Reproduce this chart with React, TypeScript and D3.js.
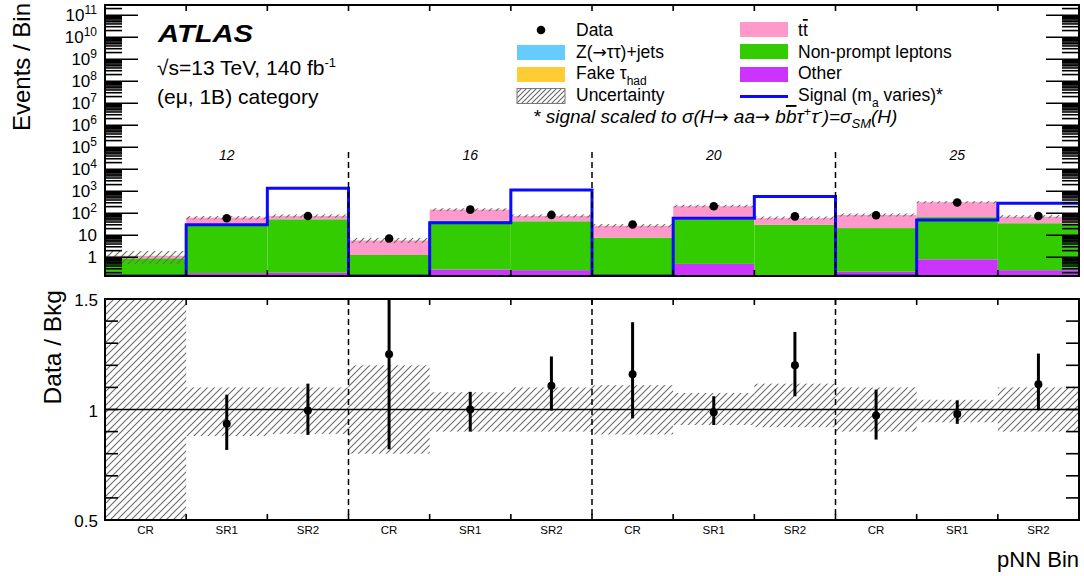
import React from 'react';
import * as d3 from 'd3';

// ---------- data ----------
const binLabels = ['CR', 'SR1', 'SR2', 'CR', 'SR1', 'SR2', 'CR', 'SR1', 'SR2', 'CR', 'SR1', 'SR2'];
const massLabels = ['12', '16', '20', '25'];

const other = [0.05, 0.19, 0.2, 0.12, 0.28, 0.26, 0.1, 0.5, 0.12, 0.22, 0.81, 0.26];
const nonPrompt = [0.85, 28, 53, 1.15, 46, 43, 7.8, 50, 29.5, 21, 66, 35];
const ttbar = [0.25, 35, 22, 4.5, 100, 32, 19, 160, 30, 62, 250, 33];
const fakeTau = [0.02, 0.3, 0.3, 0.1, 0.5, 0.3, 0.2, 0.6, 0.3, 0.4, 1.0, 0.4];
const zTauTau = [0.01, 0.2, 0.2, 0.05, 0.4, 0.2, 0.1, 0.4, 0.2, 0.3, 0.6, 1.5];

const dataCounts = [null, 59, 75, 7.1, 146, 84, 31, 207, 72, 81, 310, 75];
const signal = [0, 30, 1380, 0, 37, 1150, 0, 59, 570, 0, 50, 285];

const uncUp = [0.55, 0.1, 0.1, 0.2, 0.078, 0.1, 0.11, 0.075, 0.117, 0.1, 0.044, 0.1];
const uncDown = [0.55, 0.12, 0.11, 0.2, 0.1, 0.1, 0.113, 0.07, 0.08, 0.1, 0.058, 0.1];

const ratio = [null, 0.935, 0.995, 1.25, 1.0, 1.107, 1.16, 0.988, 1.2, 0.973, 0.98, 1.114];
const ratioHi = [null, 1.067, 1.117, 1.62, 1.08, 1.24, 1.395, 1.06, 1.351, 1.09, 1.041, 1.253];
const ratioLo = [null, 0.817, 0.885, 0.82, 0.9, 0.995, 0.96, 0.93, 1.06, 0.864, 0.935, 0.997];

const yExponents = [0, 1, 2, 3, 4, 5, 6, 7, 8, 9, 10, 11];
const ratioTickLabels = ['0.5', '1', '1.5'];

const stackKeys = ['other', 'nonPrompt', 'ttbar', 'fakeTau', 'zTauTau'];
const stackColors: Record<string, string> = {
  other: '#cc33ff',
  nonPrompt: '#33cc00',
  ttbar: '#ff99cc',
  fakeTau: '#ffcc33',
  zTauTau: '#66ccff',
};

const FONT = "'Liberation Sans', Arial, Helvetica, sans-serif";
const ARROW_FONT = "'DejaVu Sans', 'Liberation Sans', sans-serif";

// ---------- layout ----------
const X0 = 105, X1 = 1079;
const T0 = 5, T1 = 276;
const R0 = 299, R1 = 520;
const YMIN = 0.141, YMAX = 2.9e11;

export default function App() {
  const x = d3.scaleLinear().domain([0, 12]).range([X0, X1]);
  const y = d3.scaleLog().domain([YMIN, YMAX]).range([T1, T0]);
  const yr = d3.scaleLinear().domain([0.5, 1.5]).range([R1, R0]);

  const rows = binLabels.map((_, i) => ({
    other: other[i], nonPrompt: nonPrompt[i], ttbar: ttbar[i], fakeTau: fakeTau[i], zTauTau: zTauTau[i],
  }));
  const series = d3.stack<any>().keys(stackKeys)(rows);
  const totals = rows.map((r) => stackKeys.reduce((s, k) => s + (r as any)[k], 0));
  const yc = (v: number) => y(Math.max(v, YMIN));

  const sigLine = d3.line<[number, number]>()
    .x((d) => d[0]).y((d) => d[1]).curve(d3.curveStepAfter);
  const sigPts: [number, number][] = signal.map((v, i) => [x(i), yc(v)] as [number, number]);
  sigPts.push([x(12), yc(signal[signal.length - 1])]);

  const majors = yExponents.map((e) => Math.pow(10, e));
  const minors: number[] = [];
  for (let e = -1; e <= 11; e++) for (let m = 2; m <= 9; m++) {
    const v = m * Math.pow(10, e);
    if (v > YMIN && v < YMAX) minors.push(v);
  }
  const ratioTicks = d3.range(6, 15).map((k) => k / 10);
  const edges = d3.range(1, 12);
  const groupEdges = [3, 6, 9];

  return (
    <svg width={1084} height={576} style={{ position: 'absolute', left: 0, top: 0, background: '#fff' }} fontFamily={FONT}>
      <defs>
        <pattern id="hatch" patternUnits="userSpaceOnUse" width={7} height={7}>
          <path d="M-1,1 l2,-2 M0,7 l7,-7 M6,8 l2,-2" stroke="#6a6a6a" strokeWidth={1.1} />
        </pattern>
        <pattern id="hatchL" patternUnits="userSpaceOnUse" width={5} height={5}>
          <path d="M-1,1 l2,-2 M0,5 l5,-5 M4,6 l2,-2" stroke="#666" strokeWidth={1.1} />
        </pattern>
        <clipPath id="clipTop"><rect x={X0} y={T0} width={X1 - X0} height={T1 - T0} /></clipPath>
        <clipPath id="clipRatio"><rect x={X0} y={R0} width={X1 - X0} height={R1 - R0} /></clipPath>
      </defs>

      {/* ---------- top panel ---------- */}
      <g clipPath="url(#clipTop)">
        {series.map((s) => (
          <g key={s.key} fill={stackColors[s.key]}>
            {s.map((d, i) => {
              if (d[1] <= YMIN) return null;
              const yt = yc(d[1]);
              const yb = yc(d[0]);
              return <rect key={i} x={x(i)} y={yt} width={x(i + 1) - x(i)} height={Math.max(0, yb - yt)} />;
            })}
          </g>
        ))}
        {totals.map((t, i) => {
          const yt = yc(t * (1 + uncUp[i]));
          const yb = yc(t * (1 - uncDown[i]));
          return <rect key={i} x={x(i)} y={yt - 0.6} width={x(i + 1) - x(i)} height={yb - yt + 1.2} fill="url(#hatch)" />;
        })}
        <path d={sigLine(sigPts) || ''} fill="none" stroke="#0a0aff" strokeWidth={3} />
        {dataCounts.map((v, i) => v == null ? null : (
          <circle key={i} cx={x(i + 0.5)} cy={y(v)} r={4.3} fill="#000" />
        ))}
      </g>
      {groupEdges.map((g) => (
        <line key={g} x1={x(g)} x2={x(g)} y1={152} y2={T1} stroke="#000" strokeWidth={1.5} strokeDasharray="6,4" />
      ))}
      {massLabels.map((m, k) => (
        <text key={m} x={x(3 * k + 1.5)} y={160} fontSize={14} fontStyle="italic" textAnchor="middle">{m}</text>
      ))}

      <g stroke="#000" strokeWidth={1.6}>
        {majors.map((v) => (
          <g key={v}>
            <line x1={X0} x2={X0 + 33} y1={y(v)} y2={y(v)} />
            <line x1={X1} x2={X1 - 33} y1={y(v)} y2={y(v)} />
          </g>
        ))}
        {minors.map((v) => (
          <g key={v}>
            <line x1={X0} x2={X0 + 17} y1={y(v)} y2={y(v)} />
            <line x1={X1} x2={X1 - 17} y1={y(v)} y2={y(v)} />
          </g>
        ))}
        {edges.map((e) => (
          <g key={e}>
            <line x1={x(e)} x2={x(e)} y1={T1} y2={T1 - 6} />
            <line x1={x(e)} x2={x(e)} y1={T0} y2={T0 + 6} />
          </g>
        ))}
      </g>
      <rect x={X0} y={T0} width={X1 - X0} height={T1 - T0} fill="none" stroke="#000" strokeWidth={2} />

      {yExponents.map((e) => {
        const yy = y(Math.pow(10, e)) + 6;
        if (e === 0) return <text key={e} x={97} y={yy} fontSize={17} textAnchor="end">1</text>;
        if (e === 1) return <text key={e} x={97} y={yy} fontSize={17} textAnchor="end">10</text>;
        return (
          <text key={e} x={97} y={yy} fontSize={17} textAnchor="end">
            10<tspan fontSize={12} dy={-7}>{e}</tspan>
          </text>
        );
      })}
      <text transform="translate(30,3) rotate(-90)" fontSize={24} textAnchor="end">Events / Bin</text>

      <text x={158} y={42} fontSize={24} fontWeight="bold" fontStyle="italic" textLength={95} lengthAdjust="spacingAndGlyphs">ATLAS</text>
      <text x={157} y={75} fontSize={21}>√s=13 TeV, 140 fb<tspan fontSize={13} dy={-8}>-1</tspan></text>
      <text x={157} y={104} fontSize={21}>(eμ, 1B) category</text>

      {/* legend */}
      <g fontSize={17.5}>
        <circle cx={541} cy={30} r={4.3} fill="#000" />
        <text x={576} y={36}>Data</text>
        <rect x={517} y={45} width={48} height={15} fill="#66ccff" />
        <text x={576} y={58}>Z(<tspan fontFamily={ARROW_FONT} fontSize={17}>→</tspan>ττ)+jets</text>
        <rect x={517} y={67} width={48} height={15} fill="#ffcc33" />
        <text x={576} y={79}>Fake τ<tspan fontSize={12} dy={6}>had</tspan></text>
        <rect x={517} y={88.5} width={48} height={15} fill="url(#hatchL)" stroke="#777" strokeWidth={1} />
        <text x={576} y={101}>Uncertainty</text>

        <rect x={740} y={22} width={48} height={15} fill="#ff99cc" />
        <text x={798} y={36}>t<tspan style={{ textDecoration: 'overline' }}>t</tspan></text>
        <rect x={740} y={44} width={48} height={15} fill="#33cc00" />
        <text x={798} y={58}>Non-prompt leptons</text>
        <rect x={740} y={67} width={48} height={15} fill="#cc33ff" />
        <text x={798} y={79}>Other</text>
        <line x1={740} x2={788} y1={96.5} y2={96.5} stroke="#0a0aff" strokeWidth={3} />
        <text x={798} y={101}>Signal (m<tspan fontSize={12} dy={6}>a</tspan><tspan dy={-6}> varies)*</tspan></text>
      </g>
      <text x={533} y={123} fontStyle="italic" fontSize={19}>
        * signal scaled to σ(H<tspan fontFamily={ARROW_FONT} fontSize={18}>→</tspan> aa<tspan fontFamily={ARROW_FONT} fontSize={18}>→</tspan> b<tspan style={{ textDecoration: 'overline' }}>b</tspan>τ<tspan fontSize={13} dy={-7}>+</tspan><tspan dy={7}>τ</tspan><tspan fontSize={13} dy={-7}>-</tspan><tspan dy={7}>)=σ</tspan><tspan fontSize={13} dy={5}>SM</tspan><tspan dy={-5}>(H)</tspan>
      </text>

      {/* ---------- ratio panel ---------- */}
      <g clipPath="url(#clipRatio)">
        {uncUp.map((u, i) => (
          <rect key={i} x={x(i)} y={yr(1 + u)} width={x(i + 1) - x(i)} height={yr(1 - uncDown[i]) - yr(1 + u)} fill="url(#hatch)" />
        ))}
        <line x1={X0} x2={X1} y1={yr(1)} y2={yr(1)} stroke="#000" strokeWidth={1.5} />
        {ratio.map((r, i) => r == null ? null : (
          <g key={i}>
            <line x1={x(i + 0.5)} x2={x(i + 0.5)} y1={yr(ratioHi[i] as number)} y2={yr(ratioLo[i] as number)} stroke="#000" strokeWidth={3} />
            <circle cx={x(i + 0.5)} cy={yr(r)} r={4} fill="#000" />
          </g>
        ))}
      </g>
      {groupEdges.map((g) => (
        <line key={g} x1={x(g)} x2={x(g)} y1={R0} y2={R1} stroke="#000" strokeWidth={1.5} strokeDasharray="6,4" />
      ))}
      <g stroke="#000" strokeWidth={1.6}>
        {ratioTicks.map((v) => (
          <g key={v}>
            <line x1={X0} x2={X0 + 13} y1={yr(v)} y2={yr(v)} />
            <line x1={X1} x2={X1 - 13} y1={yr(v)} y2={yr(v)} />
          </g>
        ))}
        {edges.map((e) => (
          <g key={e}>
            <line x1={x(e)} x2={x(e)} y1={R1} y2={R1 - 6} />
            <line x1={x(e)} x2={x(e)} y1={R0} y2={R0 + 6} />
          </g>
        ))}
      </g>
      <rect x={X0} y={R0} width={X1 - X0} height={R1 - R0} fill="none" stroke="#000" strokeWidth={2} />
      {ratioTickLabels.map((t) => (
        <text key={t} x={98} y={yr(+t) + 7} fontSize={17} textAnchor="end">{t}</text>
      ))}
      <text transform="translate(61,290) rotate(-90)" fontSize={24.5} textAnchor="end">Data / Bkg</text>

      {binLabels.map((b, i) => (
        <text key={i} x={x(i + 0.5)} y={534} fontSize={11.5} textAnchor="middle">{b}</text>
      ))}
      <text x={1079} y={567} fontSize={22} textAnchor="end">pNN Bin</text>
    </svg>
  );
}
